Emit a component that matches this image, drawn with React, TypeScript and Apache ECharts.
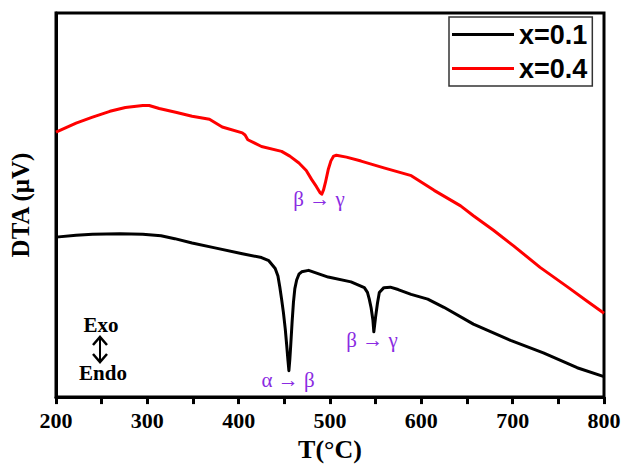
import React, { useEffect, useRef } from "react";
import * as echarts from "echarts";

const xTicks = [200, 300, 400, 500, 600, 700, 800];

// x = 0.1 (black)
const seriesX01: [number, number][] = [
  [200, 17.36], [222, 17.56], [240, 17.66], [270, 17.7], [295, 17.66], [315, 17.5], [330, 17.2],
  [349, 16.75], [374, 16.24], [404, 15.63], [425, 15.23], [433, 14.9], [440, 14.1], [443, 13.3],
  [445, 12.2], [447, 10.9], [449, 9.5], [451, 7.8], [452.6, 6.1], [454, 4.5], [455, 3.45],
  [456, 4.6], [457, 6.1], [458.5, 8.5], [460, 10.6], [461.5, 12.0], [463.5, 12.9], [466, 13.5],
  [469, 13.75], [476.6, 13.9], [498, 13.2], [523, 12.7], [537.6, 12.1], [541, 11.6], [543, 10.9],
  [545, 10.0], [547, 8.7], [548, 7.5], [549, 8.3], [550, 9.1], [552, 10.5], [554, 11.6],
  [559, 12.1], [566, 12.15], [574.6, 11.9], [588.8, 11.4], [607, 10.9], [624.7, 10.05],
  [657, 8.3], [697.7, 6.6], [733.6, 5.3], [770.6, 3.76], [800, 2.84],
];

// x = 0.4 (red)
const seriesX04: [number, number][] = [
  [200, 28.3], [222, 29.24], [240, 29.85], [259, 30.46], [276, 30.86], [295, 31.07], [302, 31.07],
  [313, 30.76], [331, 30.36], [349, 29.95], [368, 29.64], [382, 28.83], [404, 28.22], [407, 28.0],
  [410, 27.5], [425, 26.8], [447, 26.29], [456, 25.8], [466, 25.08], [474, 24.3], [480, 23.35],
  [485, 22.64], [489, 22.0], [491, 21.83], [493, 22.3], [495, 23.05], [498, 24.37], [501, 25.3],
  [504, 25.8], [507, 25.89], [518, 25.69], [534, 25.28], [559, 24.57], [589, 23.76], [614, 22.23],
  [643, 20.61], [657, 19.59], [679, 18.07], [701, 16.45], [730, 14.21], [760, 12.18],
  [782, 10.66], [800, 9.44],
];

const yRange = [0.7, 40.7];
const seriesNames = ["x=0.1", "x=0.4"];
const seriesColors = ["#000000", "#ff0000"];
const annoColor = "#8a2be2";

export default function App() {
  const ref = useRef<HTMLDivElement>(null);
  useEffect(() => {
    if (!ref.current) return;
    const chart = echarts.init(ref.current, null, { renderer: "svg" });
    const serif = "'Liberation Serif', 'Times New Roman', serif";
    const sans = "'Liberation Sans', Arial, sans-serif";
    chart.setOption({
      animation: false,
      backgroundColor: "#ffffff",
      grid: {
        left: 53, right: 27, top: 13, bottom: 60,
        show: true, borderColor: "#000", borderWidth: 3, backgroundColor: "transparent",
      },
      legend: {
        left: 449, top: 17, orient: "vertical",
        data: seriesNames,
        icon: "rect", itemWidth: 62, itemHeight: 3, itemGap: 7,
        padding: [4, 5, 4, 3],
        borderColor: "#333", borderWidth: 1.5,
        textStyle: { fontFamily: sans, fontWeight: "bold", fontSize: 27, color: "#000" },
      },
      xAxis: {
        type: "value", min: xTicks[0], max: xTicks[xTicks.length - 1], interval: 100,
        name: "T(°C)", nameLocation: "middle", nameGap: 35,
        nameTextStyle: { fontFamily: serif, fontWeight: "bold", fontSize: 26, color: "#000" },
        axisLine: { show: true, lineStyle: { color: "#000", width: 3 } },
        axisTick: { show: true, inside: false, length: 7, lineStyle: { color: "#000", width: 3 } },
        minorTick: { show: true, splitNumber: 2, length: 7, lineStyle: { color: "#000", width: 3 } },
        axisLabel: { fontFamily: serif, fontWeight: "bold", fontSize: 22, color: "#000", margin: 12 },
        splitLine: { show: false },
      },
      yAxis: {
        type: "value", min: yRange[0], max: yRange[1],
        name: "DTA (μV)", nameLocation: "middle", nameGap: 23, nameRotate: 90,
        nameTextStyle: { fontFamily: serif, fontWeight: "bold", fontSize: 25, color: "#000" },
        axisLine: { show: true, lineStyle: { color: "#000", width: 3 } },
        axisTick: { show: false },
        axisLabel: { show: false },
        splitLine: { show: false },
      },
      series: [
        {
          name: seriesNames[0], type: "line", data: seriesX01, showSymbol: false,
          lineStyle: { color: seriesColors[0], width: 3, join: "round" }, itemStyle: { color: seriesColors[0] },
        },
        {
          name: seriesNames[1], type: "line", data: seriesX04, showSymbol: false,
          lineStyle: { color: seriesColors[1], width: 3, join: "round" }, itemStyle: { color: seriesColors[1] },
        },
      ],
      graphic: [
        { type: "text", x: 319, y: 199, style: { text: "β → γ", fill: annoColor, font: `21px ${serif}`, align: "center", verticalAlign: "middle" } },
        { type: "text", x: 288, y: 380, style: { text: "α → β", fill: annoColor, font: `21px ${serif}`, align: "center", verticalAlign: "middle" } },
        { type: "text", x: 372, y: 340, style: { text: "β → γ", fill: annoColor, font: `21px ${serif}`, align: "center", verticalAlign: "middle" } },
        { type: "text", x: 101, y: 325, style: { text: "Exo", fill: "#000", font: `bold 21px ${serif}`, align: "center", verticalAlign: "middle" } },
        { type: "text", x: 103, y: 373, style: { text: "Endo", fill: "#000", font: `bold 21px ${serif}`, align: "center", verticalAlign: "middle" } },
        { type: "line", shape: { x1: 100, y1: 338, x2: 100, y2: 361 }, style: { stroke: "#000", lineWidth: 2 } },
        { type: "polyline", shape: { points: [[93, 345], [100, 337], [107, 345]] }, style: { stroke: "#000", lineWidth: 2.5, fill: null } },
        { type: "polyline", shape: { points: [[93, 354], [100, 362], [107, 354]] }, style: { stroke: "#000", lineWidth: 2.5, fill: null } },
      ],
    });
    return () => chart.dispose();
  }, []);
  return <div ref={ref} style={{ position: "fixed", left: 0, top: 0, width: 631, height: 467 }} />;
}
